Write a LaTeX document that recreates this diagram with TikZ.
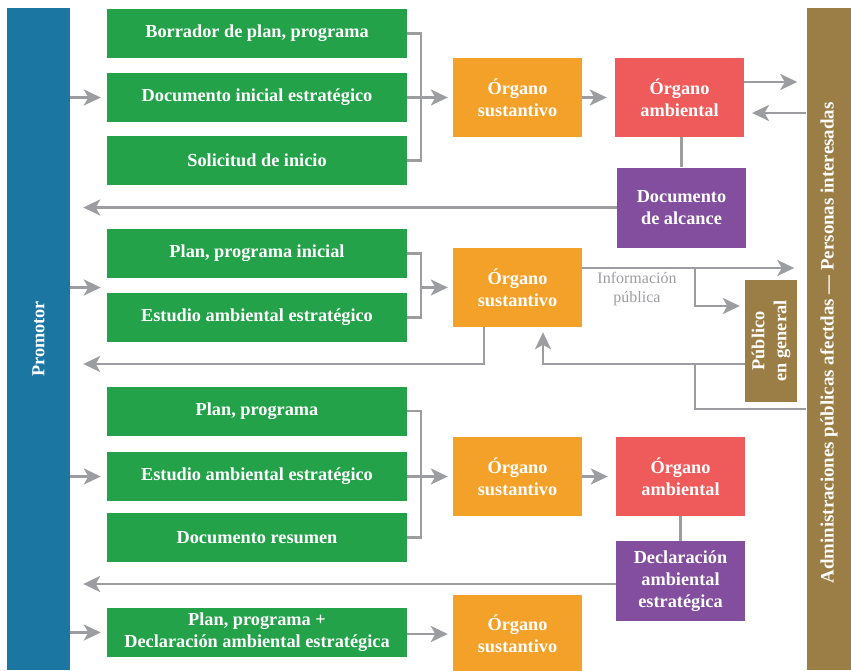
\documentclass[tikz,border=0pt]{standalone}
\usepackage{fontspec}
\setmainfont{Liberation Serif}
\usetikzlibrary{arrows.meta}
\definecolor{promblue}{HTML}{1B77A1}
\definecolor{docgreen}{HTML}{23A24A}
\definecolor{sustorange}{HTML}{F4A12A}
\definecolor{ambred}{HTML}{EF5B5B}
\definecolor{outpurple}{HTML}{824E9D}
\definecolor{partbrown}{HTML}{9B7E46}
\definecolor{flowgray}{HTML}{9C9DA1}
\tikzset{
  box/.style={rectangle, inner sep=0pt, text=white, align=center,
    font=\bfseries\fontsize{18.3}{22}\selectfont},
  docbox/.style={box, fill=docgreen, minimum width=300pt, minimum height=49pt},
  sustbox/.style={box, fill=sustorange, minimum width=129pt, minimum height=79pt},
  ambbox/.style={box, fill=ambred, minimum width=129pt, minimum height=79pt},
  outbox/.style={box, fill=outpurple, minimum width=129pt, minimum height=80pt},
  flow/.style={draw=flowgray, line width=2.7pt},
  flowarrow/.style={flow, -{Stealth[length=17pt,width=16pt,inset=4.5pt]}},
}
\begin{document}
\begin{tikzpicture}[x=1pt,y=-1pt]
\useasboundingbox (0,0) rectangle (851,670);

% side bars
\node[box, fill=promblue, rotate=90, minimum width=662pt, minimum height=63pt]
  (prom) at (38.5,339) {Promotor};
\fill[partbrown] (807,8) rectangle (851,670);
\node[box, rotate=90, font=\bfseries\fontsize{18.9}{22}\selectfont,
  minimum width=662pt, minimum height=45pt]
  (part) at (829,343) {Administraciones públicas afectdas — Personas interesadas};

% stage 1
\node[docbox] (g1) at (257,33.5) {Borrador de plan, programa};
\node[docbox] (g2) at (257,97.5) {Documento inicial estratégico};
\node[docbox] (g3) at (257,160.5) {Solicitud de inicio};
\node[sustbox] (o1) at (517.5,97.5) {Órgano\\sustantivo};
\node[ambbox] (a1) at (679.5,97.5) {Órgano\\ambiental};
\node[outbox] (p1) at (681.5,207.5) {Documento\\de alcance};

% stage 2
\node[docbox] (g4) at (257,253.5) {Plan, programa inicial};
\node[docbox] (g5) at (257,317.5) {Estudio ambiental estratégico};
\node[sustbox] (o2) at (517.5,287.5) {Órgano\\sustantivo};
\node[box, fill=partbrown, rotate=90, minimum width=122pt, minimum height=52pt]
  (pub) at (771,341) {Público\\en general};
\node[text=flowgray, align=center, font=\fontsize{16}{19}\selectfont]
  (info) at (637,289) {Información\\pública};

% stage 3
\node[docbox] (g6) at (257,411) {Plan, programa};
\node[docbox] (g7) at (257,476.5) {Estudio ambiental estratégico};
\node[docbox] (g8) at (257,537.5) {Documento resumen};
\node[sustbox] (o3) at (517.5,476.5) {Órgano\\sustantivo};
\node[ambbox] (a3) at (680.5,476.5) {Órgano\\ambiental};
\node[outbox] (p3) at (680.5,581) {Declaración\\ambiental\\estratégica};

% stage 4
\node[docbox] (g9) at (257,632.5) {Plan, programa +\\Declaración ambiental estratégica};
\node[sustbox] (o4) at (517.5,634) {Órgano\\sustantivo};

% junction and turning points
\coordinate (j1) at (421,97.5);
\coordinate (j2) at (421,287.5);
\coordinate (j3) at (421,476.5);
\coordinate (a1out) at (744,82);
\coordinate (a1in) at (744,113);
\coordinate (k1) at (695,268);
\coordinate (k2) at (695,364);
\coordinate (k3) at (484,364);
\coordinate (k4) at (543,364);
\coordinate (k5) at (695,306);
\coordinate (k6) at (695,409);
\coordinate (k7) at (616,584);

% promotor to documents
\draw[flowarrow, shorten >=6pt] (prom.south |- g2) -- (g2.west);
\draw[flowarrow, shorten >=6pt] (prom.south |- j2) -- (g4.west |- j2);
\draw[flowarrow, shorten >=6pt] (prom.south |- g7) -- (g7.west);
\draw[flowarrow, shorten >=6pt] (prom.south |- g9) -- (g9.west);

% stage 1 flows
\draw[flow] (g1.east) -| (j1) |- (g3.east);
\draw[flow] (g2.east) -- (j1);
\draw[flowarrow, shorten >=5pt] (j1) -- (o1.west);
\draw[flowarrow, shorten >=8pt] (o1.east) -- (a1.west);
\draw[flowarrow, shorten >=9pt] (a1out) -- (part.north |- a1out);
\draw[flowarrow, shorten >=8pt] (part.north |- a1in) -- (a1in);
\draw[flow] (a1.south -| p1.north) -- (p1.north);
\draw[flowarrow, shorten >=13pt] (p1.west) -- (prom.south |- p1.west);

% stage 2 flows
\draw[flow] (g4.east) -| (j2) |- (g5.east);
\draw[flowarrow, shorten >=5pt] (j2) -- (o2.west);
\draw[flowarrow, shorten >=12pt] (o2.east |- k1) -- (part.north |- k1);
\draw[flowarrow, shorten >=5pt] (k1) -- (k5) -- (pub.north |- k5);
\draw[flowarrow, shorten >=5pt] (pub.north |- k2) -- (k4) -- (o2.south -| k4);
\draw[flow] (part.north |- k6) -- (k6) -- (k2);
\draw[flowarrow, shorten >=13pt] (o2.south -| k3) -- (k3) -- (prom.south |- k3);

% stage 3 flows
\draw[flow] (g6.east) -| (j3) |- (g8.east);
\draw[flow] (g7.east) -- (j3);
\draw[flowarrow, shorten >=5pt] (j3) -- (o3.west);
\draw[flowarrow, shorten >=8pt] (o3.east) -- (a3.west);
\draw[flow] (a3.south) -- (p3.north);
\draw[flowarrow, shorten >=13pt] (k7) -- (prom.south |- k7);

% stage 4 flow
\draw[flowarrow, shorten >=5pt] (g9.east |- o4) -- (o4.west);
\end{tikzpicture}
\end{document}
